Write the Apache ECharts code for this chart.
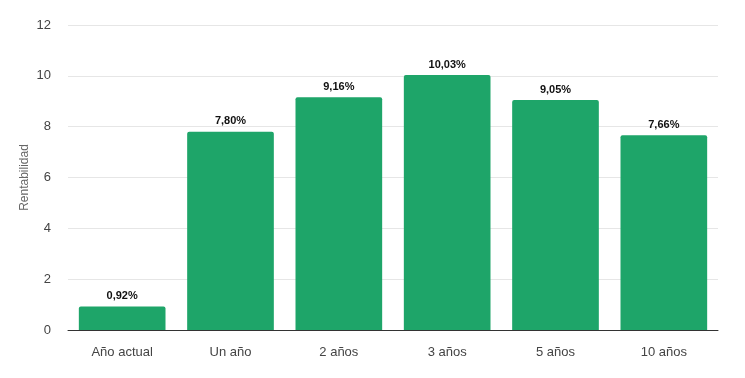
<!DOCTYPE html>
<html>
<head>
<meta charset="utf-8">
<script src="https://cdn.jsdelivr.net/npm/echarts@6/dist/echarts.min.js"></script>
<style>html,body{margin:0;padding:0;background:#fff}#c{width:745px;height:378px}</style>
</head>
<body>
<div id="c"></div>
<script>
var categories = ['Año actual', 'Un año', '2 años', '3 años', '5 años', '10 años'];
var values = [0.92, 7.80, 9.16, 10.03, 9.05, 7.66];
var yTicks = [0, 2, 4, 6, 8, 10, 12];

var FONT = 'Arial, "Liberation Sans", sans-serif';
var chart = echarts.init(document.getElementById('c'));
chart.setOption({
  animation: false,
  grid: { left: 68, right: 27, top: 25, bottom: 48 },
  xAxis: {
    type: 'category',
    data: categories,
    axisTick: { show: false },
    axisLine: { lineStyle: { color: '#333', width: 1 } },
    axisLabel: { color: '#444', fontSize: 13, fontFamily: FONT, margin: 16 }
  },
  yAxis: {
    type: 'value',
    min: yTicks[0],
    max: yTicks[yTicks.length - 1],
    interval: 2,
    name: 'Rentabilidad',
    nameLocation: 'middle',
    nameGap: 37,
    nameMoveOverlap: false,
    nameTextStyle: { color: '#666', fontSize: 12, fontFamily: FONT },
    axisLabel: { color: '#444', fontSize: 13, fontFamily: FONT, margin: 17 },
    splitLine: { lineStyle: { color: '#e6e6e6' } }
  },
  series: [{
    type: 'bar',
    data: values,
    barCategoryGap: '20%',
    itemStyle: { color: '#1ea569', borderRadius: [2, 2, 0, 0] },
    label: {
      show: true,
      position: 'top',
      distance: 5,
      color: '#111',
      fontWeight: 'bold',
      fontSize: 11,
      fontFamily: FONT,
      formatter: function (p) { return p.value.toFixed(2).replace('.', ',') + '%'; }
    }
  }]
});
</script>
</body>
</html>
